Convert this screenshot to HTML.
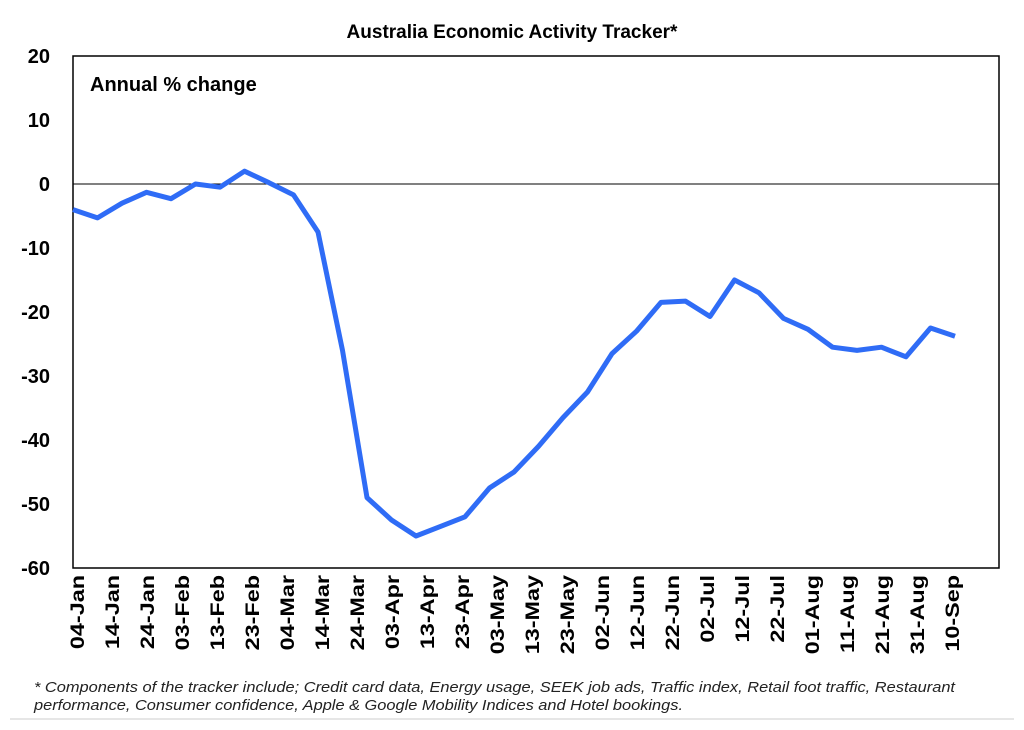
<!DOCTYPE html>
<html><head><meta charset="utf-8"><style>
body{margin:0;background:#fff;font-family:"Liberation Sans",Arial,sans-serif;}
</style></head><body>
<svg width="1024" height="725" xmlns="http://www.w3.org/2000/svg">
<text x="512" y="38" text-anchor="middle" font-size="19" font-weight="bold" font-family="Liberation Sans">Australia Economic Activity Tracker*</text>
<rect x="73" y="56" width="926" height="512" fill="none" stroke="#000" stroke-width="1.5"/>
<text x="90" y="91" font-size="20" font-weight="bold">Annual % change</text>
<g id="yticks"></g><g id="xticks"></g>
<line x1="73" x2="999" y1="184" y2="184" stroke="#000" stroke-width="1"/>
<path id="series" fill="none" stroke="#2f6cf6" stroke-width="5" stroke-linejoin="round"/>
<text x="34" y="692" font-size="15" font-style="italic" fill="#222" textLength="921" lengthAdjust="spacingAndGlyphs">* Components of the tracker include; Credit card data, Energy usage, SEEK job ads, Traffic index, Retail foot traffic, Restaurant</text>
<text x="34" y="710" font-size="15" font-style="italic" fill="#222" textLength="649" lengthAdjust="spacingAndGlyphs">performance, Consumer confidence, Apple &amp; Google Mobility Indices and Hotel bookings.</text>
<line x1="10" x2="1014" y1="719" y2="719" stroke="#ccc"/>
</svg>
<script>
const values=[-4,-5.3,-3,-1.3,-2.3,0,-0.5,2,0.2,-1.7,-7.5,-26,-49,-52.5,-55,-53.5,-52,-47.5,-45,-41,-36.5,-32.5,-26.5,-23,-18.5,-18.3,-20.7,-15,-17,-21,-22.7,-25.5,-26,-25.5,-27,-22.5,-23.8];
const xLabels=["04-Jan","14-Jan","24-Jan","03-Feb","13-Feb","23-Feb","04-Mar","14-Mar","24-Mar","03-Apr","13-Apr","23-Apr","03-May","13-May","23-May","02-Jun","12-Jun","22-Jun","02-Jul","12-Jul","22-Jul","01-Aug","11-Aug","21-Aug","31-Aug","10-Sep"];
const yTicks=[20,10,0,-10,-20,-30,-40,-50,-60];
const NS="http://www.w3.org/2000/svg";
const y=v=>184-v*6.4;
const xDay=d=>73+d*3.5;
const yt=document.getElementById('yticks');
yTicks.forEach(t=>{const e=document.createElementNS(NS,'text');
e.setAttribute('x',50);e.setAttribute('y',y(t)+7);e.setAttribute('text-anchor','end');
e.setAttribute('font-size','20');e.setAttribute('font-weight','bold');e.textContent=t;


yt.appendChild(e);});
const xt=document.getElementById('xticks');
xLabels.forEach((l,i)=>{const e=document.createElementNS(NS,'text');
const px=xDay(i*10)+11;
e.setAttribute('transform',`translate(${px},575) rotate(-90) scale(1.3,1.1)`);e.setAttribute('text-anchor','end');
e.setAttribute('font-size','18');e.setAttribute('font-weight','bold');e.textContent=l;


xt.appendChild(e);});
document.getElementById('series').setAttribute('d',values.map((v,i)=>(i?'L':'M')+xDay(i*7).toFixed(1)+','+y(v).toFixed(1)).join(''));
</script>
</body></html>
